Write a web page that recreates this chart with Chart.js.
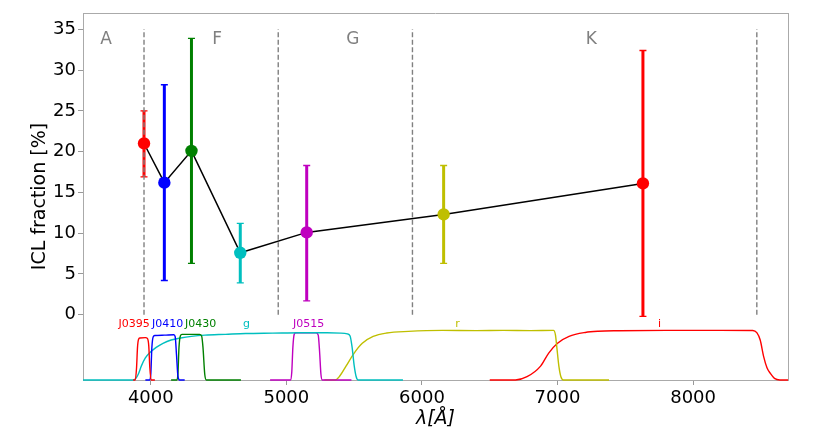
<!DOCTYPE html>
<html><head><meta charset="utf-8">
<script src="https://cdn.jsdelivr.net/npm/chart.js@4.4.0/dist/chart.umd.min.js"></script>
<style>html,body{margin:0;padding:0;background:#fff}#c{display:block}</style>
</head><body>
<canvas id="c" width="830" height="433"></canvas>
<script>
// ---- data ----
const filterNames = ['J0395','J0410','J0430','g','J0515','r','i'];
const filterColors = ['#ff0000','#0000ff','#008000','#00bfbf','#bf00bf','#bfbf00','#ff0000'];
const lambdaEff = [3950, 4100, 4300, 4660, 5150, 6160, 7630];
const iclFraction = [21.0, 16.2, 20.1, 7.6, 10.1, 12.3, 16.1];
const errLow = [16.9, 4.2, 6.3, 3.9, 1.7, 6.3, -0.2];
const errHigh = [25.0, 28.2, 33.9, 11.2, 18.3, 18.3, 32.4];

const dividerLambda = [3950, 4940, 5930, 8470];
const dividerRange = [0, 35];
const regionNames = ['A','F','G','K'];
const regionLambda = [3670, 4490, 5490, 7250];
const regionLevel = 33.8;

const filterLabelLambda = [3877, 4124, 4368, 4706, 5165, 6262, 7752];
const filterLabelLevel = -1.2;

const xTicks = [4000, 5000, 6000, 7000, 8000];
const yTicks = [0, 5, 10, 15, 20, 25, 30, 35];

// filter transmission curves (plotted in chart units below zero)
const curveJ0395 = [[3870,-8],[3885,-8],[3895,-6.5],[3902,-4],[3910,-3.0],[3920,-2.85],[3960,-2.8],[3975,-2.9],[3985,-3.8],[3993,-6.5],[4002,-8],[4030,-8]];
const curveJ0410 = [[3960,-8],[3992,-8],[4000,-7.3],[4008,-4],[4018,-2.7],[4030,-2.55],[4100,-2.5],[4170,-2.45],[4180,-2.7],[4190,-5],[4200,-7.5],[4212,-8],[4250,-8]];
const curveJ0430 = [[4150,-8],[4192,-8],[4200,-7.3],[4208,-4],[4218,-2.6],[4230,-2.4],[4360,-2.4],[4375,-2.6],[4385,-4],[4398,-7.3],[4410,-8],[4665,-8]];
const curveG = [[3500,-8],[3870,-8],[3890,-7.8],[3910,-7.2],[3930,-6.3],[3960,-5.3],[3990,-4.7],[4040,-4.0],[4090,-3.5],[4150,-3.1],[4220,-2.85],[4300,-2.65],[4400,-2.5],[4550,-2.4],[4700,-2.3],[4900,-2.25],[5100,-2.2],[5300,-2.2],[5400,-2.25],[5450,-2.35],[5470,-2.6],[5485,-4],[5500,-6.2],[5515,-7.6],[5530,-8],[5860,-8]];
const curveJ0515 = [[4880,-8],[5030,-8],[5040,-7],[5048,-4],[5058,-2.4],[5070,-2.2],[5220,-2.2],[5235,-2.5],[5245,-4.5],[5255,-7.3],[5265,-8],[5480,-8]];
const curveR = [[5280,-8],[5360,-8],[5390,-7.6],[5440,-6.3],[5500,-4.7],[5560,-3.5],[5640,-2.66],[5740,-2.24],[5900,-2.04],[6150,-1.92],[6400,-1.95],[6600,-1.92],[6800,-1.95],[6970,-1.92],[6985,-2.5],[6995,-4],[7010,-6.3],[7025,-7.6],[7045,-8],[7380,-8]];
const curveI = [[6500,-8],[6690,-8],[6775,-7.6],[6875,-6.3],[6935,-4.7],[7000,-3.5],[7085,-2.66],[7205,-2.17],[7300,-2.02],[7450,-1.96],[7800,-1.92],[8200,-1.92],[8440,-1.93],[8470,-2.2],[8495,-3.1],[8520,-5.1],[8545,-6.5],[8570,-7.2],[8600,-7.8],[8640,-8],[8700,-8]];
const filterCurves = [curveJ0395, curveJ0410, curveJ0430, curveG, curveJ0515, curveR, curveI];

// ---- chart ----
const FONT = '"DejaVu Sans", sans-serif';
const datasets = [];
datasets.push({
  label: 'ICL', type: 'line',
  data: lambdaEff.map((l, i) => ({x: l, y: iclFraction[i]})),
  borderColor: '#000', borderWidth: 1.5, tension: 0,
  pointRadius: 6.2, pointBackgroundColor: filterColors, pointBorderWidth: 0,
  pointHoverRadius: 6.2
});
dividerLambda.forEach(l => datasets.push({
  type: 'line', data: [{x: l, y: dividerRange[0]}, {x: l, y: dividerRange[1]}],
  borderColor: '#808080', borderWidth: 1.4, borderDash: [5, 2.5], pointRadius: 0
}));
filterCurves.forEach((c, i) => datasets.push({
  type: 'line', data: c.map(p => ({x: p[0], y: p[1]})),
  borderColor: filterColors[i], borderWidth: 1.4, pointRadius: 0,
  cubicInterpolationMode: 'monotone', clip: false
}));

const extras = {
  id: 'extras',
  beforeDatasetsDraw(chart) {
    const {ctx, scales: {x, y}} = chart;
    ctx.save();
    ctx.textAlign = 'center'; ctx.textBaseline = 'middle';
    ctx.fillStyle = '#808080'; ctx.font = '17px ' + FONT;
    regionNames.forEach((t, i) => ctx.fillText(t, x.getPixelForValue(regionLambda[i]), y.getPixelForValue(regionLevel)));
    ctx.font = '11px ' + FONT;
    filterNames.forEach((t, i) => {
      ctx.fillStyle = filterColors[i];
      ctx.fillText(t, x.getPixelForValue(filterLabelLambda[i]), y.getPixelForValue(filterLabelLevel));
    });
    lambdaEff.forEach((l, i) => {
      const px = x.getPixelForValue(l);
      const y0 = y.getPixelForValue(errLow[i]);
      const y1 = y.getPixelForValue(errHigh[i]);
      ctx.strokeStyle = filterColors[i];
      ctx.lineWidth = 3;
      ctx.beginPath(); ctx.moveTo(px, y0); ctx.lineTo(px, y1); ctx.stroke();
      ctx.lineWidth = 1.3;
      ctx.beginPath();
      ctx.moveTo(px - 3.5, y0); ctx.lineTo(px + 3.5, y0);
      ctx.moveTo(px - 3.5, y1); ctx.lineTo(px + 3.5, y1);
      ctx.stroke();
    });
    ctx.restore();
  },
  afterDraw(chart) {
    const {ctx, chartArea: a} = chart;
    ctx.save();
    ctx.strokeStyle = '#aaaaaa'; ctx.lineWidth = 1;
    ctx.beginPath();
    ctx.moveTo(a.left, a.top + 0.5); ctx.lineTo(a.right, a.top + 0.5);
    ctx.moveTo(a.right + 0.5, a.top); ctx.lineTo(a.right + 0.5, a.bottom);
    ctx.stroke();
    ctx.restore();
  }
};

new Chart(document.getElementById('c'), {
  type: 'line',
  data: {datasets},
  plugins: [extras],
  options: {
    responsive: false, animation: false,
    layout: {padding: {top: 13, right: 42, left: 0, bottom: 0}},
    plugins: {legend: {display: false}, tooltip: {enabled: false}},
    scales: {
      x: {
        type: 'linear', position: 'bottom', min: 3500, max: 8700,
        afterBuildTicks: s => { s.ticks = xTicks.map(v => ({value: v})); },
        afterFit: s => { s.height = 53; },
        ticks: {font: {size: 18, family: FONT}, color: '#000', padding: 3, autoSkip: false, maxRotation: 0, callback: v => String(v)},
        grid: {display: true, drawOnChartArea: false, drawTicks: true, tickLength: 5, tickColor: '#999'},
        border: {display: true, color: '#aaaaaa', width: 1},
        title: {display: true, text: 'λ[Å]', color: '#000', font: {size: 19, style: 'italic', family: FONT}, padding: {top: 0, bottom: 3}}
      },
      y: {
        type: 'linear', min: -8, max: 37,
        afterBuildTicks: s => { s.ticks = yTicks.map(v => ({value: v})); },
        afterFit: s => { s.width = 83; },
        ticks: {font: {size: 18, family: FONT}, color: '#000', padding: 2, autoSkip: false, callback: v => String(v)},
        grid: {display: true, drawOnChartArea: false, drawTicks: true, tickLength: 5, tickColor: '#999'},
        border: {display: true, color: '#aaaaaa', width: 1},
        title: {display: true, text: 'ICL fraction [%]', color: '#000', font: {size: 19, family: FONT}, padding: {top: 29, bottom: 0}}
      }
    }
  }
});
</script>
</body></html>
